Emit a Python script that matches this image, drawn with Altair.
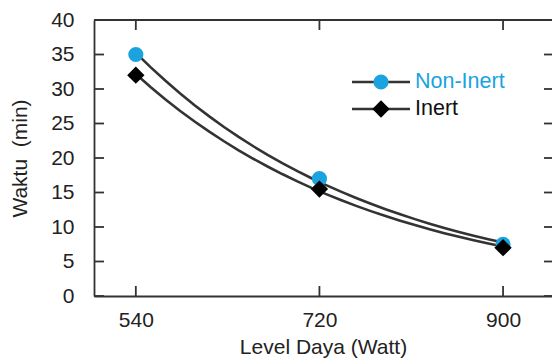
import altair as alt
import pandas as pd

power = [540, 720, 900]
non_inert = [35.0, 17.0, 7.5]
inert = [32.0, 15.5, 7.0]
series_names = ["Non-Inert", "Inert"]
x_ticks = [540, 720, 900]
y_ticks = [0, 5, 10, 15, 20, 25, 30, 35, 40]

BLUE = "#1BA3E0"
DARK = "#333333"
FONT = "Liberation Sans"
W, H = 458, 276

df = pd.DataFrame({
    "power": power * 2,
    "time": non_inert + inert,
    "series": [series_names[0]] * 3 + [series_names[1]] * 3,
})
dfx = pd.DataFrame({"power": x_ticks})
dfy = pd.DataFrame({"time": y_ticks})

xscale = alt.Scale(domain=[499, 948], nice=False, zero=False)
yscale = alt.Scale(domain=[0, 40], nice=False)

xaxis = alt.Axis(title="Level Daya (Watt)", values=x_ticks, ticks=False, tickSize=0,
                 labelPadding=13, titlePadding=6, grid=False, labelOverlap=False,
                 domainColor=DARK, domainWidth=1.8)
yaxis = alt.Axis(title="Waktu\u00a0 (min)", values=y_ticks, ticks=False, tickSize=0,
                 labelPadding=20, titlePadding=20, grid=False, labelOverlap=False,
                 domainColor=DARK, domainWidth=1.8)

X = alt.X("power:Q", scale=xscale, axis=xaxis)
Y = alt.Y("time:Q", scale=yscale, axis=yaxis)

base = alt.Chart(df)

lines = base.transform_regression(
    "power", "time", groupby=["series"], method="exp"
).mark_line(color=DARK, strokeWidth=2.6).encode(
    x=X, y=Y, detail="series:N",
)

circles = base.transform_filter(alt.datum.series == series_names[0]).mark_point(
    shape="circle", filled=True, size=230, color=BLUE, opacity=1
).encode(x=X, y=Y)

diamonds = base.transform_filter(alt.datum.series == series_names[1]).mark_point(
    shape="diamond", filled=True, size=300, color="#000000", opacity=1
).encode(x=X, y=Y)

tick_style = dict(color=DARK, strokeWidth=1.8)
left_ticks = alt.Chart(dfy).mark_rule(**tick_style).encode(
    y=Y, x=alt.value(0), x2=alt.value(10))
right_ticks = alt.Chart(dfy).mark_rule(**tick_style).encode(
    y=Y, x=alt.value(W - 8), x2=alt.value(W))
bottom_ticks = alt.Chart(dfx).mark_rule(**tick_style).encode(
    x=X, y=alt.value(H - 10), y2=alt.value(H))
top_ticks = alt.Chart(dfx).mark_rule(**tick_style).encode(
    x=X, y=alt.value(0), y2=alt.value(10))
top_border = alt.Chart(dfx).mark_rule(**tick_style).encode(
    x=alt.value(0), x2=alt.value(W), y=alt.value(0))

# legend
leg_rows = [(series_names[0], 62, BLUE, "circle", 230),
            (series_names[1], 89, "#000000", "diamond", 300)]
legend_layers = []
for name, ly, col, shp, sz in leg_rows:
    ldf = pd.DataFrame({"label": [name]})
    legend_layers.append(alt.Chart(ldf).mark_rule(color=DARK, strokeWidth=2.6).encode(
        x=alt.value(258), x2=alt.value(316), y=alt.value(ly)))
    legend_layers.append(alt.Chart(ldf).mark_point(
        shape=shp, filled=True, size=sz, color=col, opacity=1).encode(
        x=alt.value(287), y=alt.value(ly)))
    legend_layers.append(alt.Chart(ldf).mark_text(
        align="left", baseline="middle", font=FONT, fontSize=21.5,
        color=col if col == BLUE else "#111111").encode(
        x=alt.value(321), y=alt.value(ly), text="label:N"))

chart = alt.layer(
    lines, circles, diamonds,
    left_ticks, right_ticks, bottom_ticks, top_ticks, top_border,
    *legend_layers,
).properties(
    width=W, height=H,
    background="white",
    autosize=alt.AutoSizeParams(type="none"),
    padding={"left": 94, "top": 20, "right": 0, "bottom": 66},
).configure_view(stroke=None).configure_axis(
    labelFont=FONT, labelFontSize=21, labelColor="#222222",
    titleFont=FONT, titleFontSize=21, titleFontWeight="normal", titleColor="#222222",
)

chart.save("out.html", embed_options={"renderer": "svg", "actions": False})
